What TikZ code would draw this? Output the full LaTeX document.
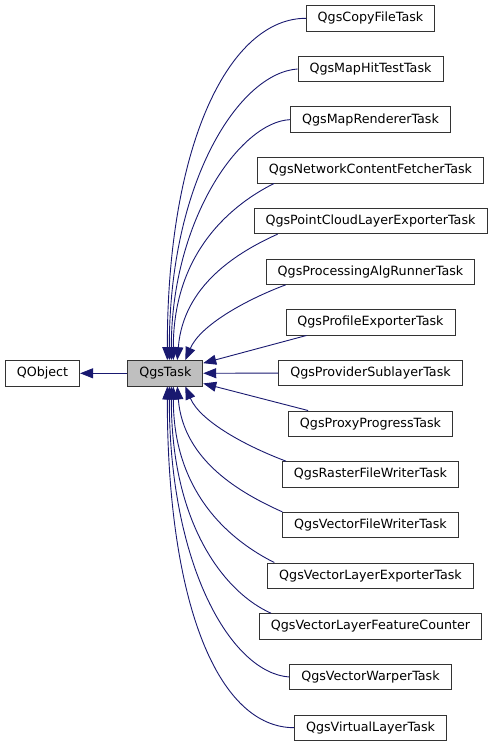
\documentclass[tikz,border=0pt]{standalone}
\usepackage{fontspec}
\setmainfont{DejaVu Sans}
\usetikzlibrary{arrows.meta}

\definecolor{edgeblue}{HTML}{191970}
\definecolor{taskgray}{HTML}{BFBFBF}

\begin{document}
\begin{tikzpicture}
[
    x = 1pt, y = -1pt,
    cls/.style = {draw = black!80, line width = 0.8pt, fill = white,
        minimum height = 25.5pt, inner xsep = 11.5pt,
        font = \fontsize{12.7}{15}\selectfont},
    edge/.style = {draw = edgeblue, line width = 0.9pt,
        -{Triangle[length = 13pt, width = 10pt]}}
]
\useasboundingbox (0,0) rectangle (495,747);

\node [cls] (qobject) at (42.5,373.3) {QObject};
\node [cls, fill = taskgray] (task) at (165.3,373.3) {QgsTask};

\foreach \nm/\txt [count = \i from 0] in {
    copy/QgsCopyFileTask,
    maphit/QgsMapHitTestTask,
    maprender/QgsMapRendererTask,
    network/QgsNetworkContentFetcherTask,
    pointcloud/QgsPointCloudLayerExporterTask,
    processing/QgsProcessingAlgRunnerTask,
    profile/QgsProfileExporterTask,
    provider/QgsProviderSublayerTask,
    proxy/QgsProxyProgressTask,
    raster/QgsRasterFileWriterTask,
    vectorwriter/QgsVectorFileWriterTask,
    exporter/QgsVectorLayerExporterTask,
    counter/QgsVectorLayerFeatureCounter,
    warper/QgsVectorWarperTask,
    virtual/QgsVirtualLayerTask}
    \node [cls] (\nm) at (370.5,18.3+50.67*\i) {\txt};

\draw [edge] (task) -- (qobject);

% children above
\draw [edge] (copy.west) .. controls +(-75,0) and +(0,-220) .. ([xshift=2pt]task.north);
\draw [edge] (maphit.west) .. controls +(-58,4) and +(0,-180) .. ([xshift=4pt]task.north);
\draw [edge] (maprender.west) .. controls +(-50,2) and +(0,-140) .. ([xshift=6pt]task.north);
\draw [edge] ([xshift=17pt]network.south west) .. controls +(-40,20) and +(0,-110) .. ([xshift=8pt]task.north);
\draw [edge] ([xshift=24pt]pointcloud.south west) .. controls +(-40,18) and +(6,-75) .. ([xshift=12pt]task.north);
\draw [edge] ([xshift=20pt]processing.south west) .. controls +(-40,15) and +(15,-35) .. ([xshift=20pt]task.north);

% direct ones
\draw [edge] ([xshift=21pt]profile.south west) -- ([yshift=-3pt]task.north east);
\draw [edge] (provider) -- (task);
\draw [edge] ([xshift=20pt]proxy.north west) -- ([yshift=3pt]task.south east);

% children below
\draw [edge] ([xshift=4pt]raster.north west) .. controls +(-40,-15) and +(15,35) .. ([xshift=20pt]task.south);
\draw [edge] (vectorwriter.north west) .. controls +(-40,-18) and +(6,75) .. ([xshift=12pt]task.south);
\draw [edge] ([xshift=7pt]exporter.north west) .. controls +(-40,-20) and +(0,110) .. ([xshift=8pt]task.south);
\draw [edge] ([xshift=12pt]counter.north west) .. controls +(-45,-20) and +(0,140) .. ([xshift=6pt]task.south);
\draw [edge] (warper.west) .. controls +(-58,-4) and +(0,180) .. ([xshift=4pt]task.south);
\draw [edge] (virtual.west) .. controls +(-75,0) and +(0,220) .. ([xshift=2pt]task.south);
\end{tikzpicture}
\end{document}
